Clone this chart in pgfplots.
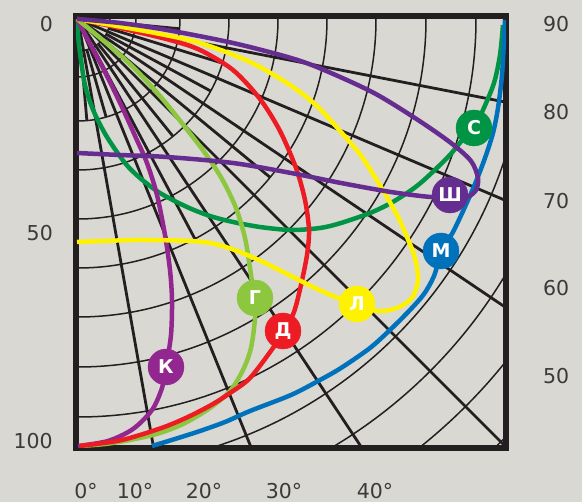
\documentclass[border=0pt]{standalone}
\usepackage{pgfplots}
\pgfplotsset{compat=1.18}
\usepackage{fontspec}
\setmainfont{DejaVu Sans}
\definecolor{bgc}{HTML}{D9D8D3}
\definecolor{gridc}{HTML}{231F20}
\definecolor{labc}{HTML}{3A3A3A}
\definecolor{cSh}{HTML}{662D91}
\definecolor{cK}{HTML}{92278F}
\definecolor{cG}{HTML}{8DC63F}
\definecolor{cD}{HTML}{ED1C24}
\definecolor{cL}{HTML}{FFF200}
\definecolor{cM}{HTML}{0072BC}
\definecolor{cS}{HTML}{009444}
\begin{document}
\begin{tikzpicture}
\fill[bgc] (-76pt,-54pt) rectangle (506pt,448pt);
\begin{scope}
\clip (0pt,0pt) rectangle (430pt,432pt);
\foreach \r in {32,58,102,151,200,249,298,348,398,449,498,548,598}
  \draw[gridc, line width=1.5pt] (2pt,429pt) circle[radius=\r pt];
\foreach \a in {10,22,33.5,45,56,67,79}
  \draw[gridc, line width=2.8pt] (2pt,429pt) -- ++(\a-90:800pt);
\foreach \a/\l in {5/70,16/70,28/217,39/119,50.5/217,61.5/119,73/119,84.5/70}
  \draw[gridc, line width=2.8pt] (2pt,429pt) ++(\a-90:32pt) -- ++(\a-90:\l pt);
\end{scope}
\begin{axis}[
  at={(0pt,0pt)}, anchor=south west,
  scale only axis, width=430pt, height=432pt,
  xmin=76, xmax=506, ymin=16, ymax=448, y dir=reverse,
  axis line style={line width=6pt, draw=gridc},
  xtick=\empty, ytick=\empty,
  clip mode=individual,
  every node near coord/.append style={anchor=center, text=white, font=\bfseries\fontsize{19}{19}\selectfont},
]
% С (green)
\addplot[smooth, line width=4.5pt, color=cS] coordinates {
(77,19) (79,45) (85,85) (94,112) (107,137) (125,163) (140,178) (160,193) (187,207) (210,216) (233,222) (260,227) (291,230) (320,228) (341,223) (370,213) (391,203) (410,191) (424,180) (448,157) (464,138) (474,128) (483,110) (494,83) (500,55) (503,25)};
% М (blue)
\addplot[smooth, line width=4.5pt, color=cM] coordinates {
(152,446) (175,439) (200,431) (225,422) (250,411) (291,395) (320,380) (341,368) (370,348) (391,329) (410,310) (424,294) (434,276) (442,251) (453,232) (464,209) (475,184) (485,158) (493,133) (498,108) (502,75) (504,40) (505,20)};
% К (purple)
\addplot[smooth, line width=4.5pt, color=cK] coordinates {
(77,19) (88,40) (105,72) (122,107) (136,138) (147,163) (157,195) (165,235) (170,270) (172,300) (171,335) (166,367) (162,388) (152,410) (133,429) (108,441) (78,446)};
% Г (light green)
\addplot[smooth, line width=4.5pt, color=cG] coordinates {
(77,19) (105,42) (133,67) (160,96) (185,127) (205,153) (222,179) (236,208) (245,238) (250,268) (254,298) (255,318) (251,348) (243,370) (230,391) (210,408) (185,423) (160,433) (130,440) (105,444) (80,446)};
% Д (red)
\addplot[smooth, line width=4.5pt, color=cD] coordinates {
(77,19) (120,28) (170,40) (200,50) (233,70) (260,99) (280,131) (296,168) (305,200) (309,230) (307,255) (301,285) (294,312) (284,331) (273,348) (250,378) (230,393) (213,404) (190,416) (167,426) (140,435) (117,441) (80,446)};
% Л (yellow)
\addplot[smooth, line width=4.5pt, color=cL] coordinates {
(77,19) (150,32) (200,43) (250,62) (290,85) (318,107) (348,140) (362,157) (381,187) (397,215) (407,237) (415,258) (418,280) (412,298) (397,308) (378,311) (357,304) (338,298) (315,288) (291,276) (265,263) (240,252) (215,244) (190,241) (137,240) (77,242)};
% Ш (indigo)
\addplot[smooth, line width=4.5pt, color=cSh] coordinates {
(77,153) (120,155) (167,157) (233,163) (291,173) (341,183) (391,192) (431,197) (450,196) (467,197) (476,190) (478,178) (471,161) (451,143) (418,120) (374,93) (324,70) (291,58) (233,43) (167,30) (120,23) (77,19)};
% markers
\addplot[only marks, mark=*, mark size=18pt, color=cS, point meta=explicit symbolic, nodes near coords] coordinates {(474,128) [С]};
\addplot[only marks, mark=*, mark size=18pt, color=cSh, point meta=explicit symbolic, nodes near coords] coordinates {(450,195) [Ш]};
\addplot[only marks, mark=*, mark size=18pt, color=cM, point meta=explicit symbolic, nodes near coords] coordinates {(441,251) [М]};
\addplot[only marks, mark=*, mark size=18pt, color=cL, point meta=explicit symbolic, nodes near coords] coordinates {(357,304) [Л]};
\addplot[only marks, mark=*, mark size=18pt, color=cG, point meta=explicit symbolic, nodes near coords] coordinates {(255,298) [Г]};
\addplot[only marks, mark=*, mark size=18pt, color=cD, point meta=explicit symbolic, nodes near coords] coordinates {(283,331) [Д]};
\addplot[only marks, mark=*, mark size=18pt, color=cK, point meta=explicit symbolic, nodes near coords] coordinates {(166,367) [К]};
% labels
\tikzset{lab/.style={text=labc, inner sep=0pt, font=\fontsize{20.5}{20.5}\selectfont}}
\node[lab, anchor=east] at (axis cs:53,24) {0};
\node[lab, anchor=east] at (axis cs:53,233) {50};
\node[lab, anchor=east] at (axis cs:53,441) {100};
\node[lab, anchor=west] at (axis cs:543,24) {90};
\node[lab, anchor=west] at (axis cs:543,112) {80};
\node[lab, anchor=west] at (axis cs:543,201) {70};
\node[lab, anchor=west] at (axis cs:543,288) {60};
\node[lab, anchor=west] at (axis cs:543,376) {50};
\node[lab] at (axis cs:86,491) {0°};
\node[lab] at (axis cs:135,491) {10°};
\node[lab] at (axis cs:204,491) {20°};
\node[lab] at (axis cs:284,491) {30°};
\node[lab] at (axis cs:375,491) {40°};
\end{axis}
\pgfresetboundingbox
\useasboundingbox (-76pt,-54pt) rectangle (506pt,448pt);
\end{tikzpicture}
\end{document}
